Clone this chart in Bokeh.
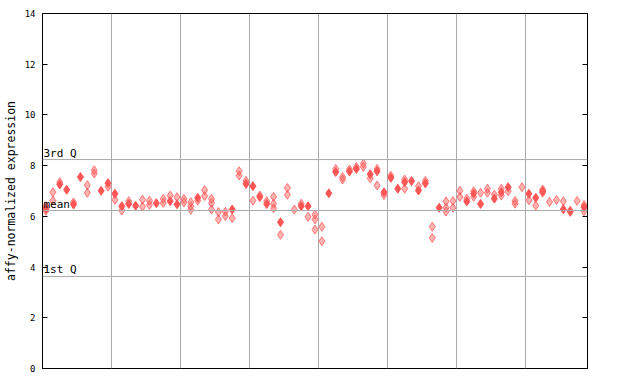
from bokeh.plotting import figure
from bokeh.models import Range1d, FixedTicker, LinearAxis, Span, Label, ColumnDataSource
from bokeh.embed import file_html
from bokeh.resources import INLINE

# sample index and value of the solid (filled) markers
filled_idx = [0, 2, 3, 4, 5, 8, 9, 10, 11, 12, 13, 16, 18, 19, 22, 27, 29, 30, 31, 32,
              34, 37, 38, 41, 42, 44, 45, 47, 48, 49, 50, 51, 52, 53, 54, 55, 57, 61, 62, 63,
              65, 66, 67, 70, 71, 72, 75, 76, 78]
filled_val = [6.30, 7.26, 7.05, 6.47, 7.55, 7.01, 7.31, 6.89, 6.40, 6.49, 6.42, 6.52, 6.60, 6.48, 6.73, 6.27, 7.28, 7.19, 6.76, 6.49,
              5.77, 6.40, 6.40, 6.91, 7.75, 7.77, 7.87, 7.66, 7.78, 6.95, 7.52, 7.09, 7.35, 7.39, 7.02, 7.30, 6.34, 6.59, 6.90, 6.49,
              6.70, 6.95, 7.15, 6.89, 6.73, 6.99, 6.28, 6.18, 6.36]

# sample index and value of the hatched markers
hatched_idx = [0, 0, 1, 1, 2, 4, 6, 6, 7, 7, 9, 10, 11, 12, 14, 14, 15, 15, 17, 17,
               18, 19, 20, 20, 21, 21, 21, 22, 23, 23, 24, 24, 24, 25, 25, 26, 26, 27, 28, 28,
               29, 30, 31, 32, 33, 33, 33, 34, 35, 35, 36, 37, 38, 39, 39, 39, 40, 40, 42, 43,
               43, 44, 45, 46, 46, 47, 48, 48, 49, 50, 52, 52, 54, 55, 56, 56, 58, 58, 58, 59,
               59, 60, 60, 61, 62, 62, 63, 64, 64, 65, 66, 66, 67, 68, 68, 69, 70, 71, 72, 72,
               73, 74, 75, 76, 77, 78, 78]
hatched_val = [6.40, 6.22, 6.95, 6.62, 7.35, 6.55, 7.23, 6.93, 7.82, 7.69, 7.17, 6.65, 6.23, 6.60, 6.66, 6.38, 6.62, 6.45, 6.69, 6.53,
               6.82, 6.76, 6.69, 6.55, 6.56, 6.40, 6.26, 6.62, 7.03, 6.80, 6.69, 6.53, 6.27, 6.17, 5.88, 6.18, 6.01, 5.93, 7.78, 7.61,
               7.40, 6.62, 6.82, 6.60, 6.77, 6.50, 6.32, 5.27, 7.12, 6.85, 6.27, 6.50, 5.98, 6.07, 5.88, 5.48, 5.59, 5.02, 7.87, 7.55,
               7.45, 7.85, 7.95, 8.08, 7.95, 7.50, 7.87, 7.22, 6.84, 7.60, 7.45, 7.09, 7.19, 7.40, 5.59, 5.15, 6.59, 6.34, 6.19, 6.61,
               6.34, 7.01, 6.77, 6.70, 6.99, 6.77, 6.93, 7.09, 6.93, 6.86, 7.09, 6.82, 6.99, 6.61, 6.50, 7.15, 6.64, 6.43, 7.06, 6.93,
               6.57, 6.65, 6.60, 6.23, 6.61, 6.45, 6.20]

n_samples = 79
group_bounds = [10, 20, 30, 40, 50, 60, 70]
y_ticks = [0, 2, 4, 6, 8, 10, 12, 14]
q1_val, mean_val, q3_val = 3.63, 6.23, 8.24
stat_labels = ["1st Q", "mean", "3rd Q"]

RED = "#ff5555"
GRID = "#aaaaaa"
MONO = "DejaVu Sans Mono"

p = figure(frame_width=545, frame_height=355, output_backend="svg", toolbar_location=None,
           x_range=Range1d(0, n_samples), y_range=Range1d(0, 14),
           min_border_left=38, min_border_top=13, min_border_right=40, min_border_bottom=9)
p.background_fill_color = "white"
p.border_fill_color = "white"
p.outline_line_color = "black"
p.outline_line_width = 1

p.xaxis.visible = False
p.xgrid.ticker = FixedTicker(ticks=group_bounds)
p.xgrid.grid_line_color = GRID
p.ygrid.grid_line_color = None

yax = p.yaxis[0]
yax.ticker = FixedTicker(ticks=y_ticks)
yax.major_tick_in = 5
yax.major_tick_out = 0
yax.minor_tick_line_color = None
yax.axis_line_color = "black"
yax.major_label_text_font = MONO
yax.major_label_text_font_size = "9px"
yax.major_label_text_color = "black"
yax.major_label_standoff = 7
yax.axis_label = "affy-normalized expression"
yax.axis_label_text_font = MONO
yax.axis_label_text_font_size = "11.5px"
yax.axis_label_text_font_style = "normal"
yax.axis_label_text_color = "black"
yax.axis_label_standoff = 4

rax = LinearAxis(ticker=FixedTicker(ticks=y_ticks), major_tick_in=5, major_tick_out=0,
                 minor_tick_line_color=None, major_label_text_font_size="0px",
                 major_label_text_color=None, axis_line_color="black")
p.add_layout(rax, "right")

for v, lab in zip([q1_val, mean_val, q3_val], stat_labels):
    p.add_layout(Span(location=v, dimension="width", line_color=GRID, line_width=1))
    p.add_layout(Label(x=0, y=v, text=lab, text_font=MONO, text_font_size="11px",
                       text_color="black", text_baseline="bottom", x_offset=1, y_offset=0))

hs = ColumnDataSource(dict(x=[i + 0.5 for i in hatched_idx], y=hatched_val))
fs = ColumnDataSource(dict(x=[i + 0.5 for i in filled_idx], y=filled_val))
p.scatter("x", "y", source=hs, marker="diamond", size=9, fill_color=RED, fill_alpha=0.45,
          line_color=RED, line_alpha=0.75, line_width=1)
p.scatter("x", "y", source=fs, marker="diamond", size=9, fill_color=RED, fill_alpha=1.0,
          line_color=RED, line_width=1)

open("out.html", "w").write(file_html(p, INLINE))
